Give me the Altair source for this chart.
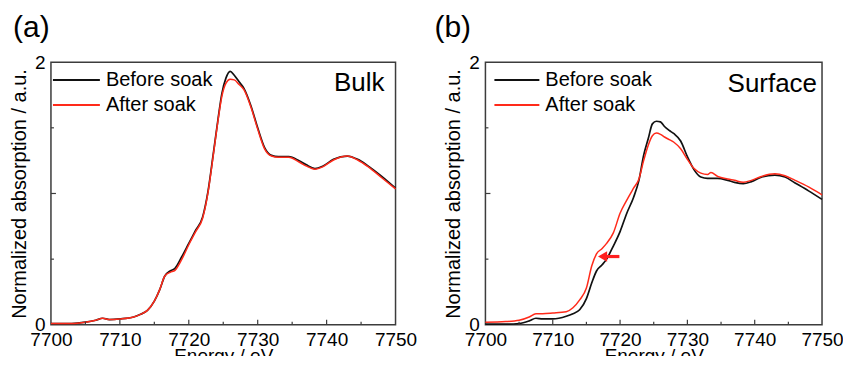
import altair as alt
import pandas as pd

FONT = "Liberation Sans"

# ---------------- data ----------------
energy_a = [7700, 7703, 7705, 7706.5, 7707.5, 7708.5, 7710, 7712, 7713, 7714, 7715, 7715.8,
            7716.5, 7717.3, 7718, 7719, 7720, 7721, 7722, 7722.8, 7723.5, 7724.2, 7724.8,
            7725.4, 7726, 7726.6, 7727.3, 7728, 7729, 7730, 7731, 7732, 7733, 7734.5, 7736,
            7737, 7738.3, 7739.5, 7741, 7743, 7744.5, 7746, 7748, 7750]
before_a = [0.01, 0.01, 0.02, 0.035, 0.05, 0.04, 0.045, 0.06, 0.08, 0.11, 0.18, 0.27,
            0.37, 0.41, 0.43, 0.52, 0.62, 0.72, 0.82, 1.02, 1.28, 1.55, 1.76,
            1.88, 1.93, 1.90, 1.85, 1.80, 1.67, 1.50, 1.35, 1.29, 1.28, 1.28, 1.25,
            1.22, 1.19, 1.21, 1.26, 1.285, 1.26, 1.21, 1.13, 1.04]
after_a = [0.01, 0.01, 0.02, 0.035, 0.05, 0.04, 0.045, 0.06, 0.08, 0.11, 0.18, 0.27,
           0.37, 0.40, 0.415, 0.50, 0.61, 0.71, 0.81, 1.01, 1.27, 1.54, 1.74,
           1.84, 1.87, 1.865, 1.83, 1.79, 1.66, 1.49, 1.34, 1.285, 1.275, 1.275, 1.24,
           1.21, 1.185, 1.205, 1.255, 1.285, 1.255, 1.205, 1.12, 1.035]

energy_b = [7700, 7703, 7705, 7706.5, 7707.5, 7708.5, 7710, 7712, 7713, 7714, 7715, 7715.8,
            7716.5, 7717.3, 7718, 7719, 7720, 7721, 7722, 7722.8, 7723.5, 7724.2, 7724.8,
            7725.4, 7726, 7726.6, 7727.3, 7728, 7729, 7730, 7731, 7732, 7733, 7733.5, 7734.5,
            7736, 7737, 7738.3, 7739.5, 7741, 7743, 7744.5, 7746, 7748, 7750]
before_b = [0.005, 0.005, 0.01, 0.03, 0.05, 0.045, 0.045, 0.065, 0.085, 0.115, 0.20, 0.32,
            0.41, 0.455, 0.50, 0.60, 0.71, 0.85, 0.97, 1.10, 1.29, 1.42, 1.53,
            1.55, 1.545, 1.51, 1.48, 1.455, 1.40, 1.28, 1.18, 1.125, 1.115, 1.115, 1.115,
            1.10, 1.085, 1.075, 1.09, 1.125, 1.14, 1.125, 1.08, 1.02, 0.955]
after_b = [0.02, 0.025, 0.035, 0.06, 0.085, 0.085, 0.09, 0.10, 0.13, 0.19, 0.28, 0.45,
           0.54, 0.58, 0.62, 0.70, 0.85, 0.95, 1.04, 1.11, 1.25, 1.37, 1.44,
           1.46, 1.45, 1.43, 1.41, 1.39, 1.34, 1.26, 1.19, 1.155, 1.145, 1.16, 1.13,
           1.11, 1.10, 1.085, 1.10, 1.13, 1.15, 1.135, 1.10, 1.05, 0.99]

arrow_energy = [7717.6, 7719.9]
arrow_value = [0.52, 0.52]
arrow_head_energy = [7717.4]

x_labels = [7700, 7710, 7720, 7730, 7740, 7750]
x_major_ticks = [7710, 7720, 7730, 7740]
x_minor_ticks = [7705, 7715, 7725, 7735, 7745]
y_labels = [0, 1, 2]
y_major_ticks = [1]
y_minor_ticks = [0.5, 1.5]

series_names = ["Before soak", "After soak"]
series_colors = ["#111111", "#ff2a1a"]

H = 263
FRAME = "#3c3c3c"


def panel(energy, before, after, W, tag, tag_dx, corner, corner_x, corner_y,
          leg_x0, leg_x1, leg_tx, arrow=False):
    xs = alt.Scale(domain=[7700, 7750], nice=False, zero=False)
    ys = alt.Scale(domain=[0, 2], nice=False)
    xaxis = alt.Axis(values=x_labels, format="d", title="Energy / eV", ticks=False,
                     domain=False, grid=False, labelFont=FONT, labelFontSize=19,
                     labelColor="black", labelPadding=6, labelFlush=False,
                     labelOverlap=False, titleFont=FONT, titleFontSize=19,
                     titleFontWeight="normal", titleColor="black", titlePadding=-3)
    yaxis = alt.Axis(values=y_labels, format="d", title="Normalized absorption / a.u.",
                     ticks=False, domain=False, grid=False, labelFont=FONT,
                     labelFontSize=19, labelColor="black", labelPadding=6,
                     labelFlush=False, labelOverlap=False, titleFont=FONT,
                     titleFontSize=20, titleFontWeight="normal", titleColor="black",
                     titlePadding=5)

    d_before = pd.DataFrame({"E": energy, "v": before})
    d_after = pd.DataFrame({"E": energy, "v": after})

    layers = []
    layers.append(alt.Chart(d_before).mark_line(color=series_colors[0], strokeWidth=1.7,
                                                interpolate="monotone").encode(
        x=alt.X("E:Q", scale=xs, axis=xaxis), y=alt.Y("v:Q", scale=ys, axis=yaxis)))
    layers.append(alt.Chart(d_after).mark_line(color=series_colors[1], strokeWidth=1.5,
                                               interpolate="monotone").encode(
        x="E:Q", y="v:Q"))

    # inward ticks
    for vals, ln in ((x_major_ticks, 5), (x_minor_ticks, 3)):
        layers.append(alt.Chart(pd.DataFrame({"E": vals})).mark_rule(
            color=FRAME, strokeWidth=1.2).encode(
            x="E:Q", y=alt.value(H), y2=alt.value(H - ln)))
    for vals, ln in ((y_major_ticks, 5), (y_minor_ticks, 3)):
        layers.append(alt.Chart(pd.DataFrame({"v": vals})).mark_rule(
            color=FRAME, strokeWidth=1.2).encode(
            y="v:Q", x=alt.value(0), x2=alt.value(ln)))

    # legend
    for i, (name, col) in enumerate(zip(series_names, series_colors)):
        yrow = 18 + 25 * i
        one = pd.DataFrame({"t": [name]})
        layers.append(alt.Chart(one).mark_rule(color=col, strokeWidth=2).encode(
            x=alt.value(leg_x0), x2=alt.value(leg_x1), y=alt.value(yrow)))
        layers.append(alt.Chart(one).mark_text(font=FONT, fontSize=20, align="left",
                                               baseline="middle", color="black").encode(
            x=alt.value(leg_tx), y=alt.value(yrow), text="t:N"))

    # corner label
    layers.append(alt.Chart(pd.DataFrame({"t": [corner]})).mark_text(
        font=FONT, fontSize=26, align="right", baseline="middle", color="black").encode(
        x=alt.value(corner_x), y=alt.value(corner_y), text="t:N"))

    if arrow:
        layers.append(alt.Chart(pd.DataFrame({"E": arrow_energy, "v": arrow_value})).mark_line(
            color="#ff2020", strokeWidth=3.2).encode(x="E:Q", y="v:Q"))
        layers.append(alt.Chart(pd.DataFrame({"E": arrow_head_energy, "v": arrow_value[:1]})).mark_point(
            shape="triangle-left", filled=True, color="#ff2020", size=110, opacity=1).encode(
            x="E:Q", y="v:Q"))

    return alt.layer(*layers).properties(
        width=W, height=H,
        title=alt.TitleParams(text=tag, anchor="start", frame="group", dx=tag_dx,
                              fontSize=30, font=FONT, fontWeight="normal", color="black",
                              baseline="alphabetic", offset=-14))


pa = panel(energy_a, before_a, after_a, 345, "(a)", -38, "Bulk", 334, 21, 2, 49, 55)
pb = panel(energy_b, before_b, after_b, 337, "(b)", -51, "Surface", 332, 22, 9, 54, 60,
           arrow=True)

chart = alt.hconcat(pa, pb, spacing=16).properties(
    padding={"left": 0, "top": 4, "right": -1, "bottom": -11}).configure_view(
    stroke=FRAME, strokeWidth=1.5)

chart.save("out.html", embed_options={"renderer": "svg", "actions": False})
